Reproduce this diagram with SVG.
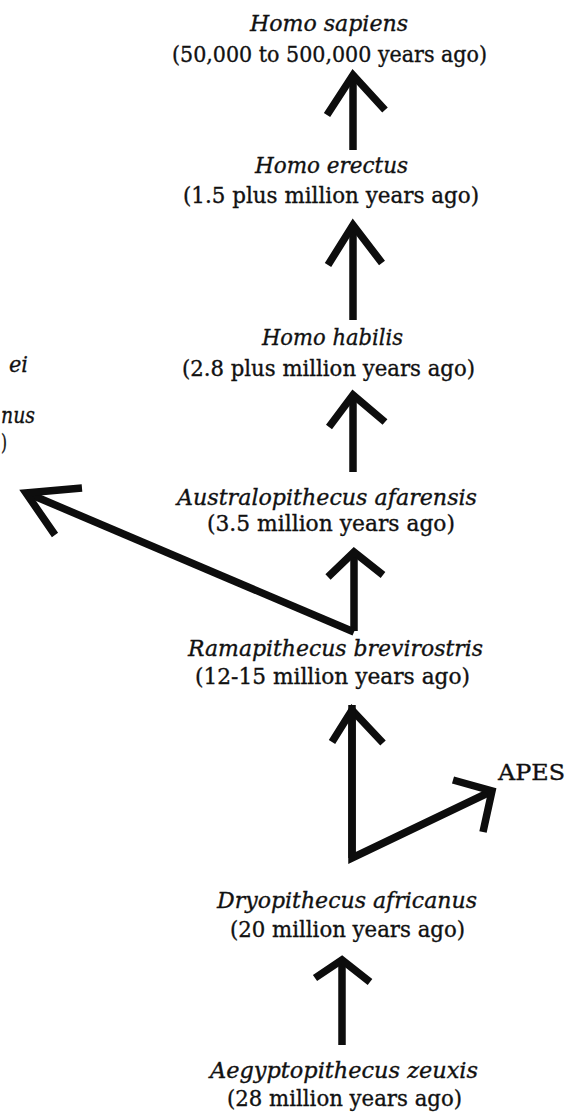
<svg xmlns="http://www.w3.org/2000/svg" width="582" height="1112" viewBox="0 0 582 1112">
<style>
.t{font-family:"DejaVu Serif","Liberation Serif",serif;font-size:22px;fill:#111;stroke:#111;stroke-width:0.35;}
.i{font-style:italic;}
.c line{stroke:#0d0d0d;stroke-width:7.5;stroke-linecap:butt;}
.c polyline{stroke:#0d0d0d;stroke-width:7.5;fill:none;stroke-linejoin:miter;}
</style>
<rect width="582" height="1112" fill="#fff"/>
<g id="connectors" class="c">
<line x1="353" y1="150" x2="353" y2="74"/>
<polyline points="327,115 353,75 385,110"/>
<line x1="353" y1="320" x2="353" y2="224"/>
<polyline points="328,265 353,225 382,263"/>
<line x1="353" y1="472" x2="353" y2="394"/>
<polyline points="329,427 353,395 385,422"/>
<line x1="354" y1="631" x2="354" y2="551"/>
<polyline points="328,577 354,552 383,575"/>
<line x1="354" y1="632" x2="27" y2="493"/>
<polyline points="82,488 26,493 55,535"/>
<line x1="352" y1="858" x2="352" y2="709"/>
<polyline points="332,742 352,710 383,743"/>
<polyline points="352,705 352,858 492,791"/>
<polyline points="453,780 492,791 483,832"/>
<line x1="342" y1="1045" x2="342" y2="959"/>
<polyline points="315,978 342,960 370,982"/>
</g>
<g id="homo-sapiens">
<text class="t i" x="250" y="31" textLength="158" lengthAdjust="spacingAndGlyphs">Homo sapiens</text>
<text class="t" x="172" y="62" textLength="315" lengthAdjust="spacingAndGlyphs">(50,000 to 500,000 years ago)</text>
</g>
<g id="homo-erectus">
<text class="t i" x="255" y="173" textLength="153" lengthAdjust="spacingAndGlyphs">Homo erectus</text>
<text class="t" x="183" y="203" textLength="296" lengthAdjust="spacingAndGlyphs">(1.5 plus million years ago)</text>
</g>
<g id="homo-habilis">
<text class="t i" x="262" y="345" textLength="141" lengthAdjust="spacingAndGlyphs">Homo habilis</text>
<text class="t" x="182" y="376" textLength="293" lengthAdjust="spacingAndGlyphs">(2.8 plus million years ago)</text>
</g>
<g id="australopithecus-afarensis">
<text class="t i" x="177" y="505" textLength="300" lengthAdjust="spacingAndGlyphs">Australopithecus afarensis</text>
<text class="t" x="207" y="531" textLength="248" lengthAdjust="spacingAndGlyphs">(3.5 million years ago)</text>
</g>
<g id="ramapithecus-brevirostris">
<text class="t i" x="188" y="656" textLength="295" lengthAdjust="spacingAndGlyphs">Ramapithecus brevirostris</text>
<text class="t" x="195" y="684" textLength="275" lengthAdjust="spacingAndGlyphs">(12-15 million years ago)</text>
</g>
<g id="dryopithecus-africanus">
<text class="t i" x="217" y="908" textLength="260" lengthAdjust="spacingAndGlyphs">Dryopithecus africanus</text>
<text class="t" x="230" y="937" textLength="235" lengthAdjust="spacingAndGlyphs">(20 million years ago)</text>
</g>
<g id="aegyptopithecus-zeuxis">
<text class="t i" x="210" y="1078" textLength="268" lengthAdjust="spacingAndGlyphs">Aegyptopithecus zeuxis</text>
<text class="t" x="227" y="1106" textLength="235" lengthAdjust="spacingAndGlyphs">(28 million years ago)</text>
</g>
<g id="apes">
<text class="t" x="498" y="780" textLength="67" lengthAdjust="spacingAndGlyphs">APES</text>
</g>
<g id="cropped-branch">
<text class="t i" x="9" y="372" textLength="19" lengthAdjust="spacingAndGlyphs">ei</text>
<text class="t i" x="1" y="423" textLength="34" lengthAdjust="spacingAndGlyphs">nus</text>
<text class="t" x="1" y="450" textLength="6" lengthAdjust="spacingAndGlyphs">)</text>
</g>
</svg>
